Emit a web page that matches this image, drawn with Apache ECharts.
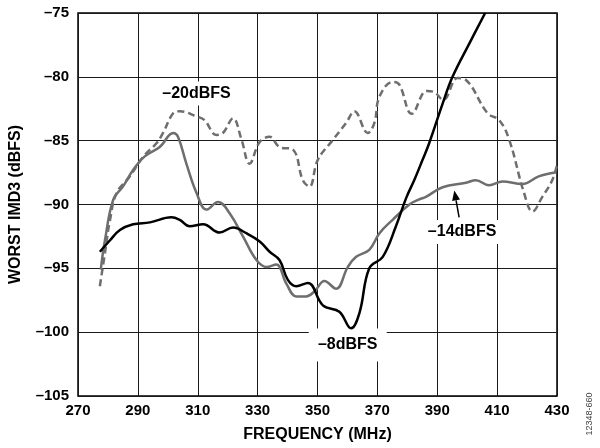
<!DOCTYPE html>
<html>
<head>
<meta charset="utf-8">
<script src="https://cdn.jsdelivr.net/npm/echarts@6/dist/echarts.min.js"></script>
<style>
  html, body { margin: 0; padding: 0; background: #fff; }
  #main { width: 600px; height: 448px; }
</style>
</head>
<body>
<div id="main"></div>
<script>
// -8dBFS (black solid)
var freq8 = [277.3, 280.7, 284, 288.4, 294, 301.2, 304, 307.3, 311.8, 317.3, 321.8, 326.2, 330.7, 334, 337.3, 340.1, 342.9, 346.8, 351.8, 357.3, 361.2, 364, 367.3, 371.8, 376.2, 379.6, 382.3, 385.1, 387.3, 391.8, 395.1, 400.7, 406];
var imd8 = [-93.7, -92.8, -92.0, -91.55, -91.4, -91.0, -91.2, -91.7, -91.55, -92.2, -91.8, -92.25, -92.9, -93.7, -94.35, -95.9, -96.4, -96.15, -97.9, -98.4, -99.7, -98.5, -95.0, -94.1, -91.7, -89.5, -88.1, -86.5, -85.2, -82.1, -80.0, -77.4, -75.0];

// -14dBFS (gray solid)
var freq14 = [277.6, 279, 281.8, 285, 288.4, 292.2, 297.3, 301.8, 303.4, 306.2, 309.6, 312.9, 316.8, 320.7, 325.1, 329.6, 333, 336.2, 339.6, 342.9, 346.2, 349, 352.3, 356.2, 360.1, 362.9, 367.3, 370.7, 375.1, 380.7, 384, 386.2, 391.8, 399.6, 402.9, 407.3, 411.8, 418.4, 423.9, 429.5];
var imd14 = [-95.1, -92.8, -89.6, -88.6, -87.3, -86.25, -85.5, -84.4, -84.7, -86.8, -89.1, -90.4, -89.8, -90.7, -92.5, -94.35, -94.9, -94.7, -96.2, -97.2, -97.2, -96.8, -96.0, -96.6, -94.9, -94.1, -93.55, -92.25, -91.2, -90.0, -89.6, -89.4, -88.65, -88.3, -88.1, -88.5, -88.2, -88.4, -87.8, -87.5];

// -20dBFS (gray dashed)
var freq20 = [277.3, 279, 280.7, 282.9, 287.3, 291.8, 296.2, 298.4, 301.8, 304, 309.6, 312.3, 316.2, 318.4, 321.8, 324.6, 327.3, 330.7, 334, 337.3, 341.8, 345.1, 347.3, 350.1, 355.1, 359.6, 362.3, 366.8, 369, 370.7, 375.1, 377.3, 381.5, 386.5, 389, 392, 396.8, 399.6, 406.8, 410.7, 414, 419, 421.8, 425.1, 428.4, 430];
var imd20 = [-96.4, -93.8, -91.2, -89.1, -87.8, -86.25, -85.2, -84.4, -82.85, -82.7, -83.1, -83.4, -84.55, -84.4, -83.25, -84.9, -86.8, -85.1, -84.7, -85.5, -85.7, -88.1, -88.6, -86.5, -84.95, -83.6, -82.7, -84.4, -83.6, -81.55, -80.4, -80.6, -82.9, -81.1, -81.2, -81.8, -80.1, -80.25, -82.85, -83.4, -84.9, -89.1, -90.55, -89.4, -88.1, -86.9];

// annotation anchors, in data units
var label20 = [309.6, -81.3];
var label8 = [360.1, -101.0];
var label14 = [398.3, -92.15];
var arrow14 = [[397.3, -91.0], [395.7, -88.9]];

function pairs(xs, ys) {
  return xs.map(function (x, i) { return [x, ys[i]]; });
}
function dash(v) { return String(v).replace('-', '\u2013'); }

var font = 'Liberation Sans, Arial, sans-serif';
var gray = '#6e6e6e';

var myChart = echarts.init(document.getElementById('main'));
var option = {
  animation: false,
  grid: {
    left: 78, right: 43, top: 13, bottom: 52,
    show: true, borderColor: '#000', borderWidth: 1.5, backgroundColor: 'transparent'
  },
  xAxis: {
    type: 'value', min: 270, max: 430, interval: 20,
    name: 'FREQUENCY (MHz)', nameLocation: 'middle', nameGap: 31,
    nameTextStyle: { fontFamily: font, fontWeight: 'bold', fontSize: 16, color: '#000' },
    axisLine: { show: false }, axisTick: { show: false },
    axisLabel: { fontFamily: font, fontWeight: 'bold', fontSize: 15, color: '#000', margin: 7 },
    splitLine: { show: true, lineStyle: { color: '#1a1a1a', width: 1 } }
  },
  yAxis: {
    type: 'value', min: -105, max: -75, interval: 5,
    name: 'WORST IMD3 (dBFS)', nameLocation: 'middle', nameGap: 54,
    nameTextStyle: { fontFamily: font, fontWeight: 'bold', fontSize: 16, color: '#000' },
    axisLine: { show: false }, axisTick: { show: false },
    axisLabel: { fontFamily: font, fontWeight: 'bold', fontSize: 15, color: '#000', margin: 9, formatter: dash },
    splitLine: { show: true, lineStyle: { color: '#1a1a1a', width: 1 } }
  },
  series: [
    {
      name: '-20dBFS', type: 'line', data: pairs(freq20, imd20), smooth: 0.4, showSymbol: false,
      lineStyle: { color: gray, width: 2.5, type: [7, 4] }, z: 3
    },
    {
      name: '-14dBFS', type: 'line', data: pairs(freq14, imd14), smooth: 0.4, showSymbol: false,
      lineStyle: { color: gray, width: 2.5 }, z: 4
    },
    {
      name: '-8dBFS', type: 'line', data: pairs(freq8, imd8), smooth: 0.4, showSymbol: false,
      lineStyle: { color: '#000', width: 2.5 }, z: 5
    }
  ]
};
myChart.setOption(option, true);

function px(p) { return myChart.convertToPixel({ gridIndex: 0 }, p); }

function boxLabel(p, text, w, h) {
  var c = px(p);
  return [
    { type: 'rect', z: 1, shape: { x: c[0] - w / 2, y: c[1] - h / 2, width: w, height: h }, style: { fill: '#fff' } },
    { type: 'text', z: 10, x: c[0], y: c[1], style: { text: text, font: 'bold 16px ' + font, fill: '#000', align: 'center', verticalAlign: 'middle' } }
  ];
}

var a0 = px(arrow14[0]), a1 = px(arrow14[1]);
var ang = Math.atan2(a1[1] - a0[1], a1[0] - a0[0]);
var hl = 10, hw = 4;
var bx = a1[0] - hl * Math.cos(ang), by = a1[1] - hl * Math.sin(ang);

var elems = []
  .concat(boxLabel(label20, '\u201320dBFS', 76, 24))
  .concat(boxLabel(label8, '\u20138dBFS', 78, 33))
  .concat(boxLabel(label14, '\u201314dBFS', 76, 24))
  .concat([
    { type: 'line', z: 10, shape: { x1: a0[0], y1: a0[1], x2: bx, y2: by }, style: { stroke: '#000', lineWidth: 1.5 } },
    { type: 'polygon', z: 10, shape: { points: [a1, [bx + hw * Math.sin(ang), by - hw * Math.cos(ang)], [bx - hw * Math.sin(ang), by + hw * Math.cos(ang)]] }, style: { fill: '#000' } },
    { type: 'text', z: 10, x: 590, y: 414, rotation: Math.PI / 2, style: { text: '12348-660', font: '9px ' + font, fill: '#444', align: 'center', verticalAlign: 'middle' } }
  ]);

myChart.setOption({ graphic: { elements: elems } });
</script>
</body>
</html>
